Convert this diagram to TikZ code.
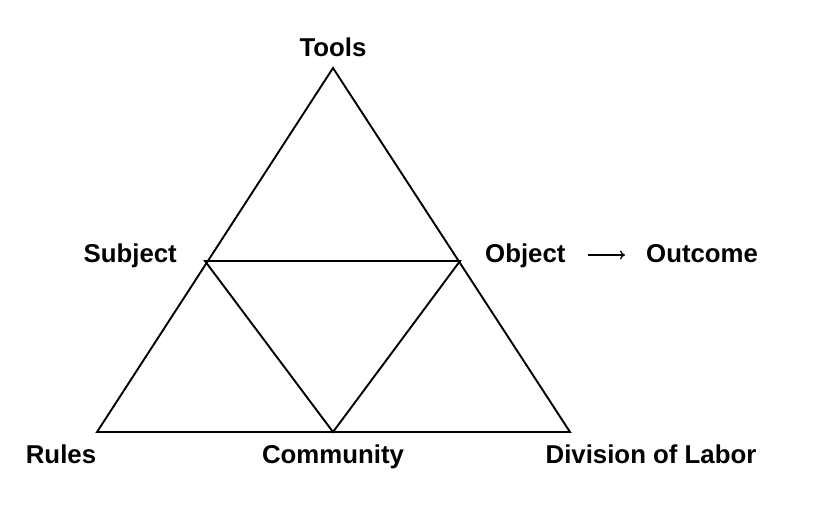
\documentclass[tikz,border=0pt]{standalone}
\usepackage{fontspec}
\setmainfont{Liberation Sans}
\usetikzlibrary{arrows.meta}
\begin{document}
\begin{tikzpicture}[x=1pt,y=-1pt,
  edge/.style={line width=1.9pt, line join=miter},
  lbl/.style={font=\fontsize{25.8}{30}\selectfont\bfseries, inner sep=0pt}]
\useasboundingbox (0,0) rectangle (819,518);
\coordinate (T) at (333,68);
\coordinate (S) at (205,261);
\coordinate (O) at (460,261);
\coordinate (R) at (97,432);
\coordinate (C) at (333,432);
\coordinate (D) at (570,432);
\draw[edge] (R) -- (T) -- (D) -- cycle;
\draw[edge] (S) -- (O) -- (C) -- cycle;
\node[lbl, anchor=base] (tools) at (333,57) {Tools};
\node[lbl, anchor=base east] (subject) at (177,263) {Subject};
\node[lbl, anchor=base west] (object) at (485,263) {Object};
\node[lbl, anchor=base west] (outcome) at (646,263) {Outcome};
\node[lbl, anchor=base] (rules) at (61,463) {Rules};
\node[lbl, anchor=base] (community) at (333,463) {Community};
\node[lbl, anchor=base] (division) at (651,463) {Division of Labor};
\coordinate (a1) at (588,255);
\coordinate (a2) at (625,255);
\draw[line width=1.2pt, -{To[length=5pt,width=9pt]}] (a1) -- (a2);
\end{tikzpicture}
\end{document}
